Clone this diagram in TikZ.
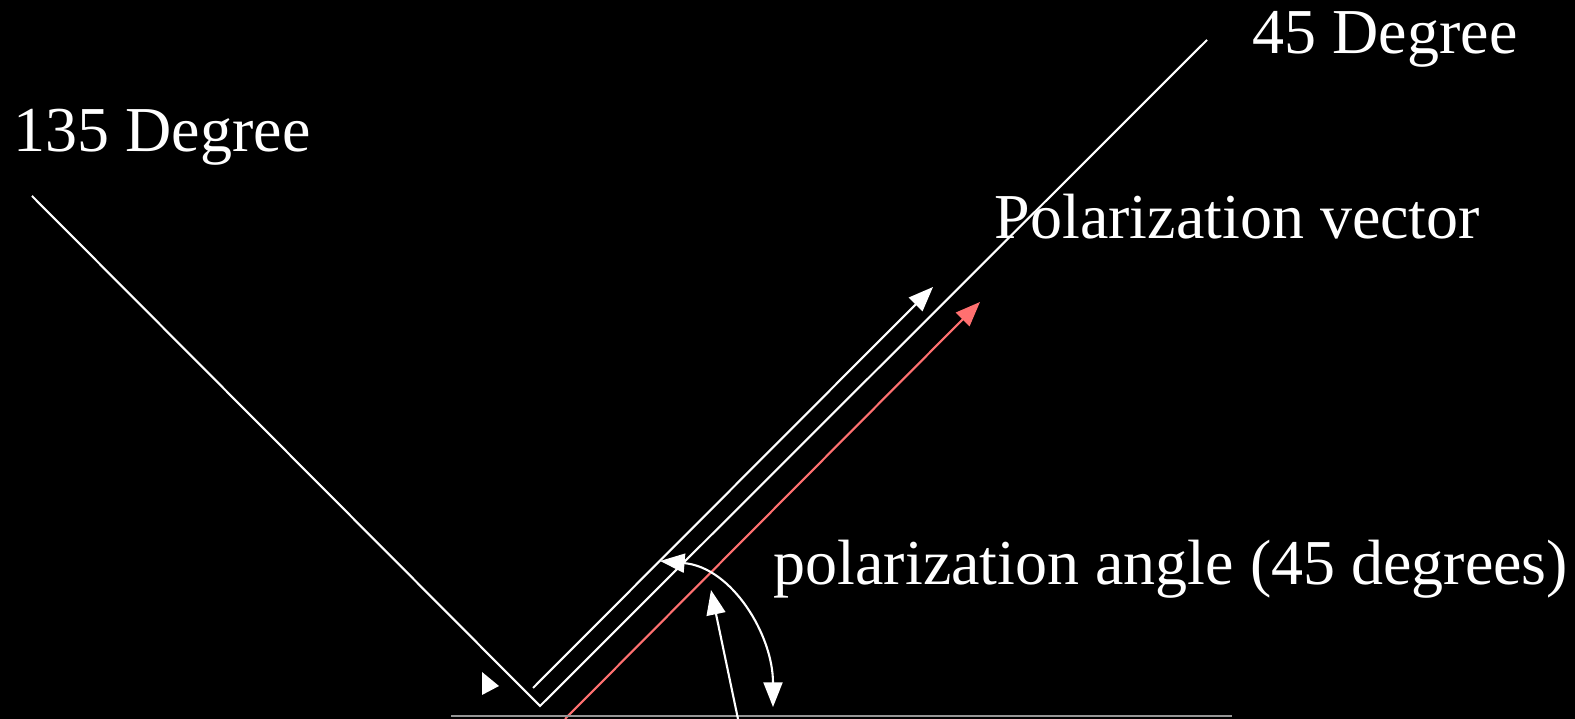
\documentclass[tikz,border=0pt]{standalone}
\usepackage{fontspec}
\setmainfont{Liberation Serif}
\usepackage{tikz}
\usetikzlibrary{arrows.meta}
\definecolor{polred}{RGB}{255, 112, 112}
\definecolor{floorgray}{RGB}{150, 150, 150}

\begin{document}
\begin{tikzpicture}[
    x=0.01cm, y=-0.01cm,
    lbl/.style={text=white,inner sep=0pt,anchor=base west,font=\fontsize{18.2}{21}\selectfont},
    axis/.style={white,line width=0.6pt},
    vec/.style={-{Triangle[length=7pt,width=5.4pt]},white,line width=0.6pt},
    redvec/.style={-{Triangle[length=7pt,width=5.4pt]},polred,line width=0.6pt}
]
\fill[black] (0,0) rectangle (1575,719);
\useasboundingbox (0,0) rectangle (1575,719);

% axes of the polarizer
\coordinate (lt) at (32,196);
\coordinate (vx) at (540,706);
\coordinate (rt) at (1207,40);
\draw[axis] (lt) -- (vx) -- (rt);

% labels
\node[lbl] (n135) at (13,152) {135 Degree};
\node[lbl] (n45)  at (1252,54) {45 Degree};
\node[lbl] (pvec) at (994,239) {Polarization vector};
\node[lbl] (pang) at (773,585) {polarization angle (45 degrees)};

% vectors
\coordinate (ws) at (533,688);
\coordinate (wt) at (933,287);
\draw[vec] (ws) -- (wt);
\coordinate (rs) at (565,719);
\coordinate (rtip) at (980,302);
\draw[redvec] (rs) -- (rtip);

% floor
\coordinate (fl) at (451,716);
\coordinate (fr) at (1232,716);
\draw[floorgray,line width=0.6pt] (fl) -- (fr);

% angle marks
\coordinate (ps) at (738,719);
\coordinate (pt) at (711,590);
\draw[vec] (ps) -- (pt);
\coordinate (ab) at (773,707);
\coordinate (atop) at (660,561);
\draw[{Triangle[length=7pt,width=5.4pt]}-{Triangle[length=7pt,width=5.4pt]},white,line width=0.6pt]
  (ab) to[out=90,in=-5] (atop);
\fill[white] (482,672) -- (499,686) -- (482,695) -- cycle;
\end{tikzpicture}
\end{document}
